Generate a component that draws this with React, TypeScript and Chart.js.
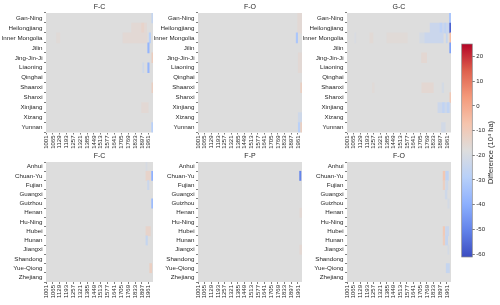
import React, { useEffect, useRef } from "react";
import { Chart, registerables } from "chart.js";

Chart.register(...registerables);

// ---------------- data ----------------
const NORTH_REGIONS = ["Gan-Ning", "Heilongjiang", "Inner Mongolia", "Jilin", "Jing-Jin-Ji", "Liaoning", "Qinghai", "Shaanxi", "Shanxi", "Xinjiang", "Xizang", "Yunnan"];
const SOUTH_REGIONS = ["Anhui", "Chuan-Yu", "Fujian", "Guangxi", "Guizhou", "Henan", "Hu-Ning", "Hubei", "Hunan", "Jiangxi", "Shandong", "Yue-Qiong", "Zhejiang"];
const YEAR_TICKS = [1001, 1065, 1129, 1193, 1257, 1321, 1385, 1449, 1513, 1577, 1641, 1705, 1769, 1833, 1897, 1961];
const FIRST_YEAR = 1001;
const LAST_YEAR = 2000;
const CBAR_MIN = -61.2;
const CBAR_MAX = 25.1;
const CBAR_TICKS = [20, 10, 0, -10, -20, -30, -40, -50, -60];
const CBAR_LABEL = "Difference (10⁴ ha)";

// [region, from year, to year, difference (10^4 ha)]; every other cell is 0
type Seg = [string, number, number, number];

const NORTH_FC: Seg[] = [
  ["Gan-Ning", 1989, 2000, -10],
  ["Heilongjiang", 1800, 1940, 1.2],
  ["Heilongjiang", 1895, 1915, 2.5],
  ["Inner Mongolia", 1100, 1130, 0.8],
  ["Inner Mongolia", 1720, 1945, 1.2],
  ["Inner Mongolia", 1965, 1978, -15],
  ["Jilin", 1952, 1964, -28],
  ["Jing-Jin-Ji", 1990, 2000, 4],
  ["Liaoning", 1905, 1915, -6],
  ["Liaoning", 1952, 1964, -28],
  ["Shaanxi", 1990, 2000, 3.5],
  ["Xinjiang", 1895, 1955, 1.2],
  ["Yunnan", 1988, 2000, -15],
];

const NORTH_FO: Seg[] = [
  ["Gan-Ning", 1960, 2000, 1.2],
  ["Heilongjiang", 1960, 2000, 1.2],
  ["Inner Mongolia", 1945, 1958, -20],
  ["Jing-Jin-Ji", 1965, 2000, 1.2],
  ["Liaoning", 1965, 2000, 1.2],
  ["Shaanxi", 1988, 2000, 3.5],
  ["Xizang", 1965, 2000, -6],
  ["Yunnan", 1965, 1980, -15],
  ["Yunnan", 1988, 2000, 3.5],
];

const NORTH_GC: Seg[] = [
  ["Gan-Ning", 1985, 2000, -20],
  ["Heilongjiang", 1800, 1990, -8],
  ["Heilongjiang", 1895, 1912, -13],
  ["Heilongjiang", 1940, 1950, -12],
  ["Heilongjiang", 1988, 2000, -55],
  ["Inner Mongolia", 1075, 1085, -2],
  ["Inner Mongolia", 1220, 1250, 1],
  ["Inner Mongolia", 1385, 1580, 0.8],
  ["Inner Mongolia", 1700, 1750, -4],
  ["Inner Mongolia", 1750, 1925, -8],
  ["Inner Mongolia", 1955, 1965, -10],
  ["Inner Mongolia", 1990, 2000, 7],
  ["Jilin", 1988, 2000, -35],
  ["Jing-Jin-Ji", 1718, 1766, 1.5],
  ["Shaanxi", 1245, 1260, 0.8],
  ["Shaanxi", 1720, 1830, 1.5],
  ["Shaanxi", 1915, 1930, -4],
  ["Shanxi", 1990, 2000, 5],
  ["Xinjiang", 1875, 1990, -7],
  ["Xinjiang", 1920, 1935, -12],
  ["Xinjiang", 1965, 1980, -12],
  ["Yunnan", 1910, 1945, -5],
];

const SOUTH_FC: Seg[] = [
  ["Anhui", 1935, 1945, -3],
  ["Chuan-Yu", 1935, 1975, 2.5],
  ["Chuan-Yu", 1988, 2000, -30],
  ["Fujian", 1950, 1962, -8],
  ["Guizhou", 1988, 2000, -25],
  ["Hubei", 1935, 1975, 2.5],
  ["Hunan", 1935, 1948, -10],
  ["Yue-Qiong", 1970, 1988, 3.5],
];

const SOUTH_FP: Seg[] = [
  ["Chuan-Yu", 1978, 1990, -45],
  ["Henan", 1980, 2000, 1.2],
  ["Jiangxi", 1980, 2000, 1.5],
];

const SOUTH_FO: Seg[] = [
  ["Chuan-Yu", 1925, 1945, 5.5],
  ["Chuan-Yu", 1950, 1975, -12],
  ["Fujian", 1925, 1940, 3.5],
  ["Fujian", 1950, 1970, -6],
  ["Guangxi", 1945, 1962, -6],
  ["Guizhou", 1970, 1982, -4],
  ["Hubei", 1925, 1940, 5],
  ["Hubei", 1948, 1978, -8],
  ["Hunan", 1925, 1942, 4],
  ["Hunan", 1948, 1968, -10],
  ["Jiangxi", 1970, 1980, -4],
  ["Yue-Qiong", 1955, 1985, -10],
];

// ---------------- styling ----------------
const FONT = "'Liberation Sans', Arial, sans-serif";
const TEXT = "#262626";
const COOLWARM: [number, number, number][] = [
  [59, 76, 192], [98, 130, 234], [141, 176, 254], [184, 208, 249],
  [221, 221, 221], [245, 196, 173], [244, 154, 123], [222, 96, 77], [180, 4, 38],
];

function cw(t: number): string {
  t = Math.max(0, Math.min(1, t));
  const p = t * (COOLWARM.length - 1);
  const i = Math.min(COOLWARM.length - 2, Math.floor(p));
  const f = p - i;
  const a = COOLWARM[i], b = COOLWARM[i + 1];
  const c = a.map((v, k) => Math.round(v + (b[k] - v) * f));
  return `rgb(${c[0]},${c[1]},${c[2]})`;
}

function diffColor(v: number): string {
  if (v < 0) return cw(0.5 - 0.5 * (v / CBAR_MIN));
  return cw(0.5 + 0.5 * (v / CBAR_MAX));
}

type Panel = {
  title: string;
  regions: string[];
  segs: Seg[];
  left: number;
  right: number;
  top: number;
  bottom: number;
};

const YW = 46;
const XH = 20;

const TOP_Y = [13, 132.5];
const BOT_Y = [162, 282];
const COLS = [[46, 153], [198, 302], [347, 451]];

const PANELS: Panel[] = [
  { title: "F-C", regions: NORTH_REGIONS, segs: NORTH_FC, left: COLS[0][0], right: COLS[0][1], top: TOP_Y[0], bottom: TOP_Y[1] },
  { title: "F-O", regions: NORTH_REGIONS, segs: NORTH_FO, left: COLS[1][0], right: COLS[1][1], top: TOP_Y[0], bottom: TOP_Y[1] },
  { title: "G-C", regions: NORTH_REGIONS, segs: NORTH_GC, left: COLS[2][0], right: COLS[2][1], top: TOP_Y[0], bottom: TOP_Y[1] },
  { title: "F-C", regions: SOUTH_REGIONS, segs: SOUTH_FC, left: COLS[0][0], right: COLS[0][1], top: BOT_Y[0], bottom: BOT_Y[1] },
  { title: "F-P", regions: SOUTH_REGIONS, segs: SOUTH_FP, left: COLS[1][0], right: COLS[1][1], top: BOT_Y[0], bottom: BOT_Y[1] },
  { title: "F-O", regions: SOUTH_REGIONS, segs: SOUTH_FO, left: COLS[2][0], right: COLS[2][1], top: BOT_Y[0], bottom: BOT_Y[1] },
];

const bgPlugin = {
  id: "heatBg",
  beforeDatasetsDraw(chart: any) {
    const { ctx, chartArea } = chart;
    ctx.save();
    ctx.fillStyle = diffColor(0);
    ctx.fillRect(chartArea.left, chartArea.top, chartArea.right - chartArea.left, chartArea.bottom - chartArea.top);
    ctx.restore();
  },
};

function titlePlugin(title: string) {
  return {
    id: "panelTitle",
    afterDraw(chart: any) {
      const { ctx, chartArea } = chart;
      ctx.save();
      ctx.font = `7px ${FONT}`;
      ctx.fillStyle = TEXT;
      ctx.textAlign = "center";
      ctx.textBaseline = "bottom";
      ctx.fillText(title, (chartArea.left + chartArea.right) / 2, chartArea.top - 2.5);
      ctx.restore();
    },
  };
}

function panelConfig(p: Panel): any {
  const tickFont = { family: FONT, size: 6.2 };
  return {
    type: "bar",
    data: {
      labels: p.regions,
      datasets: [
        {
          data: p.segs.map((s) => ({ y: s[0], x: [s[1] - 0.5, s[2] + 0.5], v: s[3] })),
          backgroundColor: (c: any) => diffColor(c.raw ? c.raw.v : 0),
          borderWidth: 0,
          barPercentage: 1,
          categoryPercentage: 1,
          grouped: false,
        },
      ],
    },
    options: {
      indexAxis: "y",
      animation: false,
      responsive: false,
      events: [],
      layout: {
        padding: { left: p.left - YW, top: p.top, right: 500 - p.right, bottom: 305 - p.bottom - XH },
      },
      plugins: { legend: { display: false }, tooltip: { enabled: false }, title: { display: false } },
      scales: {
        y: {
          type: "category",
          labels: p.regions,
          offset: true,
          grid: { drawOnChartArea: false, drawTicks: true, tickLength: 2, color: TEXT, lineWidth: 0.6 },
          border: { display: false },
          ticks: { font: tickFont, color: TEXT, padding: 1.5, autoSkip: false },
          afterFit: (s: any) => { s.width = YW; },
        },
        x: {
          type: "linear",
          min: FIRST_YEAR - 0.5,
          max: LAST_YEAR + 0.5,
          grid: { drawOnChartArea: false, drawTicks: true, tickLength: 2, color: TEXT, lineWidth: 0.6 },
          border: { display: false },
          ticks: {
            font: { family: FONT, size: 6 },
            color: TEXT,
            padding: 1,
            minRotation: 90,
            maxRotation: 90,
            autoSkip: false,
            callback: (v: any) => String(v),
          },
          afterBuildTicks: (s: any) => { s.ticks = YEAR_TICKS.map((v) => ({ value: v })); },
          afterFit: (s: any) => { s.height = XH; },
        },
      },
    },
    plugins: [bgPlugin, titlePlugin(p.title)],
  };
}

const CB_LEFT = 461.7;
const CB_RIGHT = 472.3;
const CB_TOP = 44;
const CB_BOTTOM = 257;

const gradientPlugin = {
  id: "cbarGradient",
  beforeDatasetsDraw(chart: any) {
    const { ctx, chartArea } = chart;
    const y = chart.scales.y;
    const y0 = y.getPixelForValue(CBAR_MIN);
    const y1 = y.getPixelForValue(CBAR_MAX);
    const g = ctx.createLinearGradient(0, y0, 0, y1);
    for (let i = 0; i <= 32; i++) g.addColorStop(i / 32, cw(i / 32));
    ctx.save();
    ctx.fillStyle = g;
    ctx.fillRect(chartArea.left, chartArea.top, chartArea.right - chartArea.left, chartArea.bottom - chartArea.top);
    ctx.strokeStyle = "#8c8c8c";
    ctx.lineWidth = 0.7;
    ctx.strokeRect(chartArea.left, chartArea.top, chartArea.right - chartArea.left, chartArea.bottom - chartArea.top);
    ctx.restore();
  },
  afterDraw(chart: any) {
    const { ctx, chartArea } = chart;
    ctx.save();
    ctx.font = `7.5px ${FONT}`;
    ctx.fillStyle = TEXT;
    ctx.textAlign = "center";
    ctx.textBaseline = "middle";
    ctx.translate(491, (chartArea.top + chartArea.bottom) / 2 + 2);
    ctx.rotate(-Math.PI / 2);
    ctx.fillText(CBAR_LABEL, 0, 0);
    ctx.restore();
  },
};

function colorbarConfig(): any {
  return {
    type: "bar",
    data: { labels: [""], datasets: [] },
    options: {
      animation: false,
      responsive: false,
      events: [],
      layout: { padding: { left: CB_LEFT, top: CB_TOP, right: 0, bottom: 305 - CB_BOTTOM } },
      plugins: { legend: { display: false }, tooltip: { enabled: false } },
      scales: {
        x: { display: false },
        y: {
          position: "right",
          min: CBAR_MIN,
          max: CBAR_MAX,
          grid: { drawOnChartArea: false, drawTicks: true, tickLength: 2.5, color: TEXT, lineWidth: 0.6 },
          border: { display: false },
          ticks: { font: { family: FONT, size: 6 }, color: TEXT, padding: 1.5, callback: (v: any) => String(v) },
          afterBuildTicks: (s: any) => { s.ticks = CBAR_TICKS.map((v) => ({ value: v })); },
          afterFit: (s: any) => { s.width = 500 - CB_RIGHT; },
        },
      },
    },
    plugins: [gradientPlugin],
  };
}

function ChartCanvas({ make }: { make: () => any }) {
  const ref = useRef<HTMLCanvasElement>(null);
  useEffect(() => {
    const chart = new Chart(ref.current as HTMLCanvasElement, make());
    return () => chart.destroy();
  }, []);
  return (
    <canvas
      ref={ref}
      width={500}
      height={305}
      style={{ position: "absolute", left: 0, top: 0, width: 500, height: 305 }}
    />
  );
}

export default function App() {
  return (
    <div style={{ position: "absolute", left: 0, top: 0, width: 500, height: 305, background: "#fff", overflow: "hidden" }}>
      {PANELS.map((p, i) => (
        <ChartCanvas key={i} make={() => panelConfig(p)} />
      ))}
      <ChartCanvas make={colorbarConfig} />
    </div>
  );
}
